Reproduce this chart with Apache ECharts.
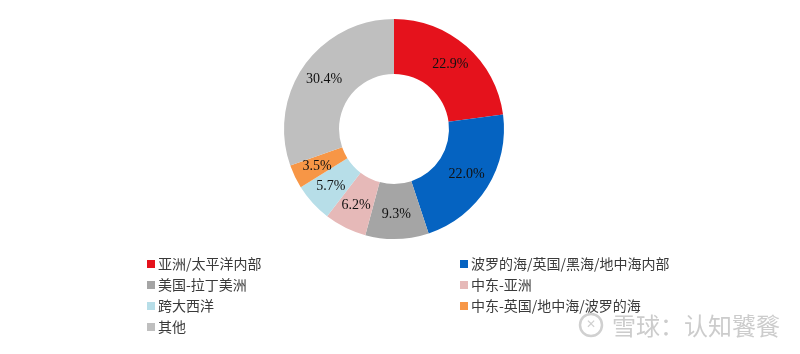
<!DOCTYPE html>
<html><head><meta charset="utf-8">
<script src="https://cdn.jsdelivr.net/npm/echarts@6/dist/echarts.min.js"></script>
<style>html,body{margin:0;padding:0;background:#fff}#c{width:800px;height:354px}</style>
</head><body><div id="c"></div>
<script>
const categories = ['亚洲/太平洋内部','波罗的海/英国/黑海/地中海内部','美国-拉丁美洲','中东-亚洲','跨大西洋','中东-英国/地中海/波罗的海','其他'];
const values = [22.9, 22.0, 9.3, 6.2, 5.7, 3.5, 30.4];
const colors = ['#E5121C','#0563C1','#A5A5A5','#E6B9B8','#B7DEE8','#F79646','#BFBFBF'];
const legendLeft = ['亚洲/太平洋内部','美国-拉丁美洲','跨大西洋','其他'];
const legendRight = ['波罗的海/英国/黑海/地中海内部','中东-亚洲','中东-英国/地中海/波罗的海'];

const chart = echarts.init(document.getElementById('c'), null, {renderer:'canvas'});
const legendCommon = {
  orient:'vertical', icon:'rect', itemWidth:8, itemHeight:8, itemGap:7,
  textStyle:{fontFamily:'"Noto Sans CJK SC"', fontSize:14, color:'#3a3a3a', padding:[0,0,0,-2]},
  selectedMode:false
};
chart.setOption({
  animation:false,
  color: colors,
  legend:[
    Object.assign({}, legendCommon, {data:legendLeft, left:142, top:252}),
    Object.assign({}, legendCommon, {data:legendRight, left:455, top:252})
  ],
  series:[{
    type:'pie',
    center:[394,129],
    radius:[55,110],
    startAngle:90,
    clockwise:true,
    avoidLabelOverlap:false,
    label:{show:true, position:'inside', formatter:p=>p.value.toFixed(1)+'%',
      fontFamily:'"Liberation Serif"', fontSize:14, color:'#111111'},
    labelLine:{show:false},
    emphasis:{disabled:true},
    data: categories.map((n,i)=>({name:n, value:values[i]}))
  }],
  graphic:[
    {type:'circle', shape:{cx:591, cy:325, r:11}, style:{fill:'none', stroke:'#d0d0d0', lineWidth:2.5}},
    {type:'text', style:{x:591, y:325, text:'✕', fill:'#d0d0d0', font:'bold 12px "DejaVu Sans"', align:'center', verticalAlign:'middle'}},
    {type:'text', style:{x:612, y:326, text:'雪球：认知饕餮', fill:'#cccccc', font:'24px "Noto Sans CJK SC"', verticalAlign:'middle'}}
  ]
});
</script></body></html>
